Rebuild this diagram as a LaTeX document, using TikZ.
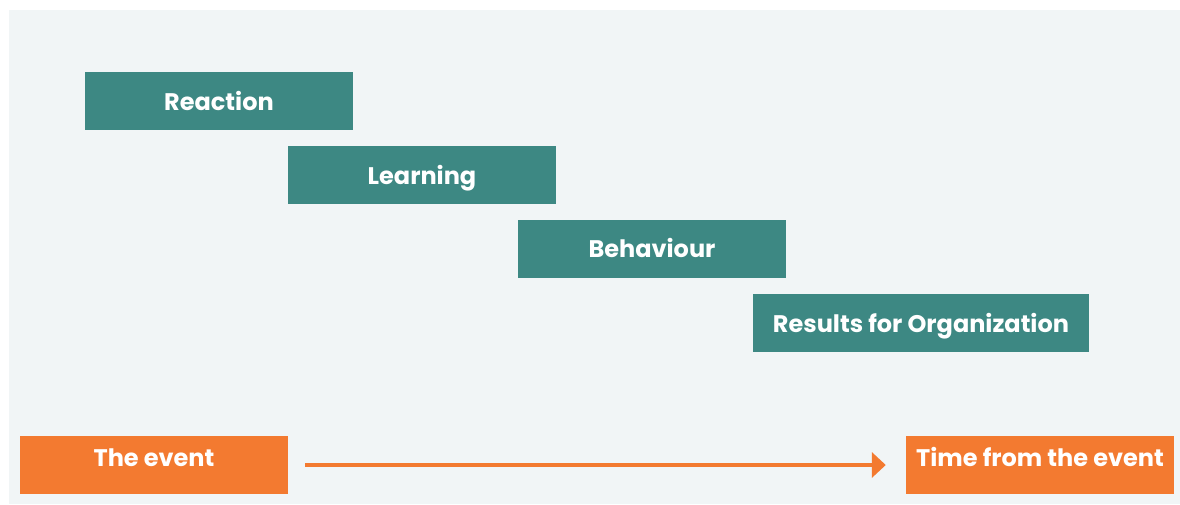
\documentclass[tikz,border=0pt]{standalone}
\usepackage{fontspec}
\setmainfont{Poppins}
\usetikzlibrary{arrows.meta}

\definecolor{panelgray}{HTML}{F1F5F6}
\definecolor{stageteal}{HTML}{3D8883}
\definecolor{eventorange}{HTML}{F37A30}

\tikzset{
    stagebox/.style={fill=stageteal, text=white, font=\bfseries\fontsize{24}{28}\selectfont,
                     minimum width=268pt, minimum height=58pt, inner sep=0pt,
                     text height=22pt, text depth=4pt},
    eventbox/.style={fill=eventorange, text=white, font=\bfseries\fontsize{24}{28}\selectfont,
                     minimum width=268pt, minimum height=58pt, inner sep=0pt,
                     text height=23pt, text depth=20pt},
}

\begin{document}
\begin{tikzpicture}[x=1pt, y=-1pt]
    \useasboundingbox (0, 0) rectangle (1180, 504);
    \fill[panelgray] (9, 10) rectangle (1180, 504);

    % nodes: reaction learning behaviour results
    \node[stagebox] (reaction) at (219, 101) {Reaction};
    \node[stagebox] (learning) at (422, 175) {Learning};
    \node[stagebox] (behaviour) at (652, 248.5) {Behaviour};
    \node[stagebox, minimum width=336pt] (results) at (921, 323) {Results for Organization};
    % nodes: event time
    \node[eventbox] (event) at (154, 465) {The event};
    \node[eventbox] (time) at (1040, 465) {Time from the event};

    % edge: event-time
    \draw[eventorange, line width=3.5pt, -{Triangle[length=14pt, width=25pt]},
          shorten <=17pt, shorten >=20pt] (event) -- (time);
\end{tikzpicture}
\end{document}
